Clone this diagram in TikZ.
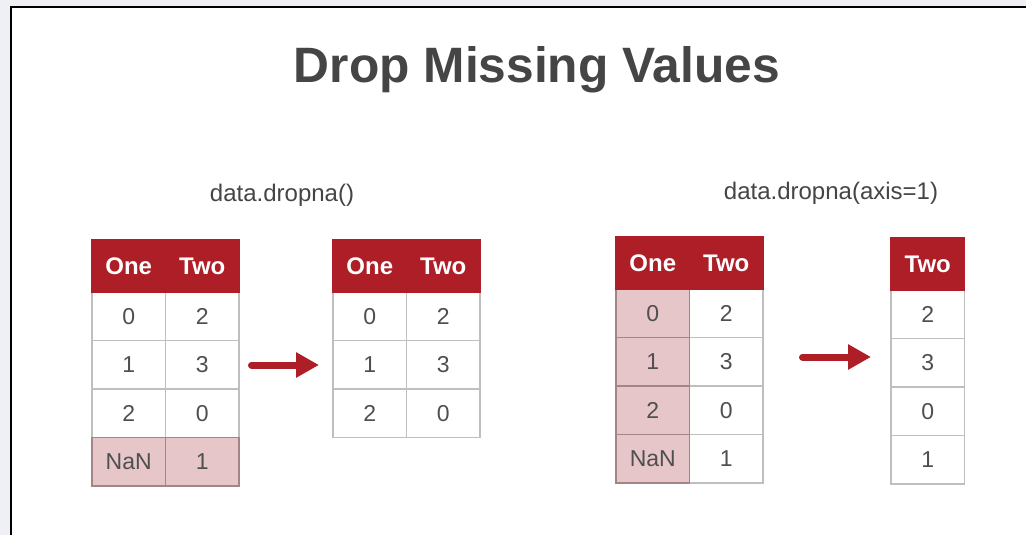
\documentclass[tikz,border=0pt]{standalone}
\usepackage{fontspec}
\setmainfont{Liberation Sans}
\usetikzlibrary{arrows.meta}
\definecolor{hdrred}{HTML}{AD1E27}
\definecolor{nanpink}{HTML}{E6C6C8}
\definecolor{nanline}{HTML}{A38586}
\definecolor{gridline}{HTML}{BFBFBF}
\definecolor{txtgray}{HTML}{454545}
\definecolor{celltxt}{HTML}{4F4F4F}
\definecolor{pagebg}{HTML}{EEF0F5}
\tikzset{
  cell/.style={draw=gridline, line width=1.2pt, fill=white, text=celltxt,
    inner sep=0pt, outer sep=0pt, minimum width=73.5pt, minimum height=48.5pt,
    font=\fontsize{23}{27}\selectfont},
  nancell/.style={cell, fill=nanpink, draw=nanline},
  hdr/.style={cell, fill=hdrred, draw=hdrred, text=white, minimum height=52pt,
    font=\fontsize{24}{28}\selectfont\bfseries},
  caption/.style={text=txtgray, anchor=base, font=\fontsize{24}{28}\selectfont},
  bigarrow/.style={draw=hdrred, line width=7pt, line cap=round,
    -{Triangle[length=23pt,width=24pt]}}
}
\begin{document}
\begin{tikzpicture}[x=1pt,y=-1pt]
  \useasboundingbox (0,0) rectangle (1026,535);
  % page and frame
  \fill[pagebg] (0,0) rectangle (1026,535);
  \fill[white] (11,7) rectangle (1026,535);
  \draw[black, line width=2.6pt] (11,535) -- (11,7) -- (1026,7);

  % title and captions
  \node[anchor=base, text=txtgray, font=\fontsize{49.7}{58}\selectfont\bfseries]
    (title) at (537,82) {Drop Missing Values};
  \node[caption] (cap1) at (282,201) {data.dropna()};
  \node[caption] (cap2) at (831,199) {data.dropna(axis=1)};

  % table 1: original data, last row contains NaN
  \foreach \v/\w [count=\i] in {0/2,1/3,2/0} {
    \node[cell] (t1r\i a) at (128.75,{267.75+48.5*\i}) {\v};
    \node[cell] (t1r\i b) at (202.25,{267.75+48.5*\i}) {\w};
  }
  \node[nancell] (t1r4a) at (128.75,461.75) {NaN};
  \node[nancell] (t1r4b) at (202.25,461.75) {1};
  \node[hdr] (t1ha) at (128.75,266) {One};
  \node[hdr] (t1hb) at (202.25,266) {Two};

  % table 2: rows with NaN dropped
  \foreach \v/\w [count=\i] in {0/2,1/3,2/0} {
    \node[cell] (t2r\i a) at (369.75,{267.75+48.5*\i}) {\v};
    \node[cell] (t2r\i b) at (443.25,{267.75+48.5*\i}) {\w};
  }
  \node[hdr] (t2ha) at (369.75,266) {One};
  \node[hdr] (t2hb) at (443.25,266) {Two};

  % table 3: original data, column One contains NaN
  \foreach \w [count=\i] in {2,3,0,1} {
    \node[cell] (t3r\i b) at (726.25,{264.75+48.5*\i}) {\w};
  }
  \foreach \v [count=\i] in {0,1,2,NaN} {
    \node[nancell] (t3r\i a) at (652.75,{264.75+48.5*\i}) {\v};
  }
  \node[hdr] (t3ha) at (652.75,263) {One};
  \node[hdr] (t3hb) at (726.25,263) {Two};

  % table 4: columns with NaN dropped
  \foreach \w [count=\i] in {2,3,0,1} {
    \node[cell] (t4r\i) at (927.75,{265.75+48.5*\i}) {\w};
  }
  \node[hdr] (t4h) at (927.75,264) {Two};

  % arrows
  \coordinate (a1s) at (251.5,365);
  \coordinate (a1e) at (319,365);
  \coordinate (a2s) at (802.5,357);
  \coordinate (a2e) at (871,357);
  \draw[bigarrow] (a1s) -- (a1e);
  \draw[bigarrow] (a2s) -- (a2e);
\end{tikzpicture}
\end{document}
